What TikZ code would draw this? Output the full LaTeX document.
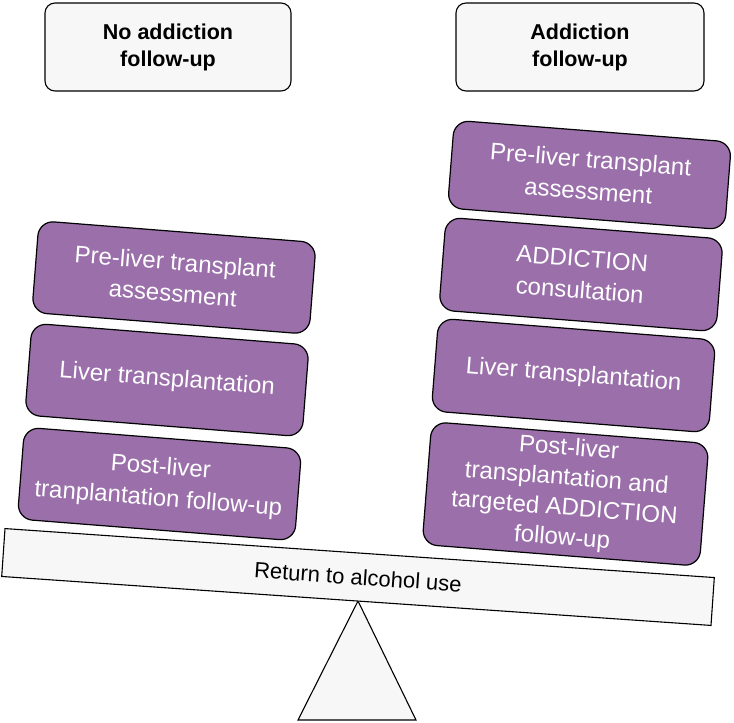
\documentclass[tikz,border=0pt]{standalone}
\usepackage{fontspec}
\setmainfont{Liberation Sans}
\definecolor{boxgrey}{RGB}{247,247,247}
\definecolor{boxpurple}{RGB}{154,111,170}
\tikzset{
  headbox/.style={draw=black, line width=1.1pt, fill=boxgrey, rounded corners=10pt,
    minimum width=246pt, minimum height=88pt, align=center,
    font=\fontsize{21.5}{27}\selectfont\bfseries},
  stepbox/.style={draw=black, line width=1.2pt, fill=boxpurple, rounded corners=15pt,
    minimum width=278pt, align=center, text=white, rotate=-4.5, inner sep=2pt,
    font=\fontsize{24}{31.5}\selectfont},
  plank/.style={draw=black, line width=1.1pt, fill=boxgrey, minimum width=711pt,
    minimum height=48pt, rotate=-3.95, inner sep=0pt, font=\fontsize{22}{26}\selectfont},
}
\begin{document}
\begin{tikzpicture}[x=1pt,y=-1pt]
\useasboundingbox (0,0) rectangle (734,723);
% header boxes
\node[headbox] (hl) at (168,47) {No addiction\\follow-up};
\node[headbox, minimum width=248pt] (hr) at (580,47) {Addiction\\follow-up};
% fulcrum
\coordinate (apex) at (358,601);
\coordinate (bl) at (298,720);
\coordinate (br) at (416,720);
\draw[line width=1.1pt, fill=boxgrey] (apex) -- (bl) -- (br) -- cycle;
% plank
\node[plank] (pl) at (358,577) {Return to alcohol use};
% left stack
\node[stepbox, minimum height=92pt] (l1) at (174,277.5) {Pre-liver transplant\\assessment};
\node[stepbox, minimum height=92pt] (l2) at (167,380) {Liver transplantation};
\node[stepbox, minimum height=92pt] (l3) at (159.5,484) {Post-liver\\tranplantation follow-up};
% right stack
\node[stepbox, minimum height=88pt] (r1) at (589.5,175) {Pre-liver transplant\\assessment};
\node[stepbox, minimum height=93pt] (r2) at (581,274.5) {ADDICTION\\consultation};
\node[stepbox, minimum height=93pt] (r3) at (573.5,375.5) {Liver transplantation};
\node[stepbox, minimum height=123pt, font=\fontsize{24}{30}\selectfont] (r4) at (565.5,494) {Post-liver\\transplantation and\\targeted ADDICTION\\follow-up};
\end{tikzpicture}
\end{document}
